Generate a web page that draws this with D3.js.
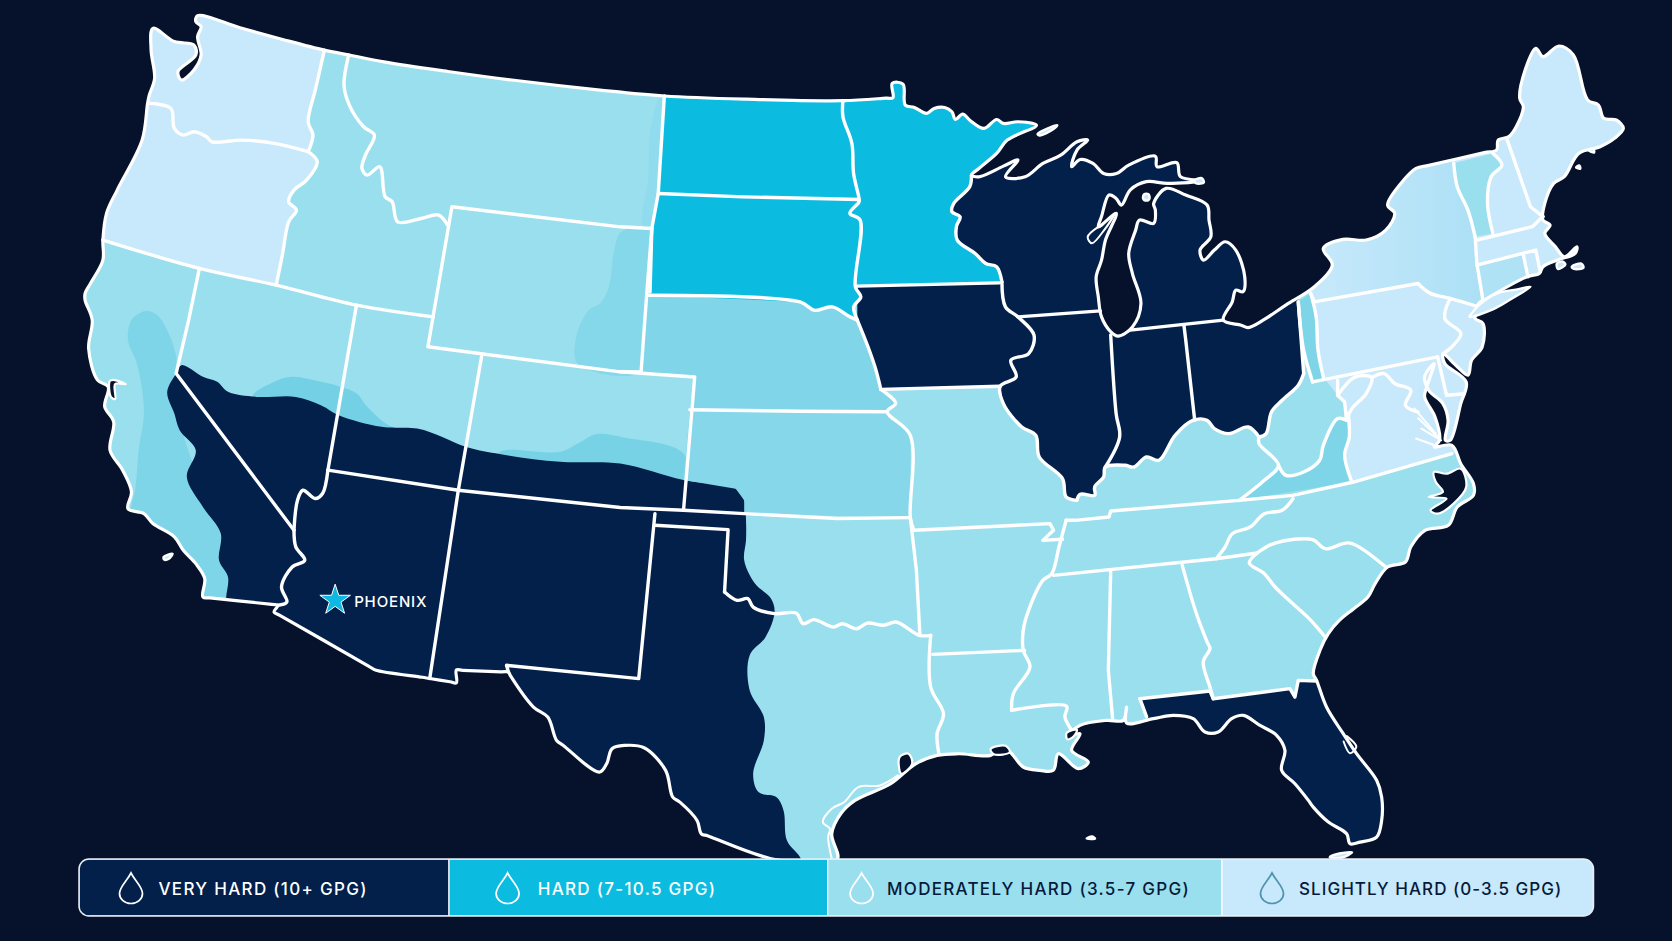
<!DOCTYPE html>
<html>
<head>
<meta charset="utf-8">
<script src="https://cdn.jsdelivr.net/npm/d3@7"></script>
<style>
    html, body { margin: 0; padding: 0; background: #06122b; }
    svg { display: block; }
    text { font-family: "Inter", "Lato", sans-serif; }
</style>
</head>
<body>
<div id="map"></div>
<script>
// Legend content
const legendLabels = ["VERY HARD (10+ GPG)", "HARD (7-10.5 GPG)", "MODERATELY HARD (3.5-7 GPG)", "SLIGHTLY HARD (0-3.5 GPG)"];
const legendFills = ["#03204b", "#0cbce0", "#9adfee", "#c8e8fc"];
const legendInk = ["#ffffff", "#ffffff", "#071a3a", "#071a3a"];
const legendDropInk = ["#ffffff", "#ffffff", "#ffffff", "#4e94ad"];
const cityName = "PHOENIX";
const cityPoint = [314.3, 562.6];

const landOutline = [
    [185.3,14.7],[225,26],[265,37],[304,47],[327.6,51.6],[360,58],[420,67],[480,75],[562.7,84.4],[623,90],[700,93],[790.5,94.4],[831,92],[837.4,91.6],[836.7,78.2],[846.8,78.8],[849,98.5],
    [857.5,100.7],[869,106.3],[876,101.6],[886,100.7],[892.7,104.8],[896,112],[902.7,107],[911,114],[922.8,120.4],[934.6,112],[941,115.7],[954.6,114.1],[972,117.3],[944.6,131.3],[934.6,143.8],[918,157.9],[911,164.1],
    [918,165.7],[941,155.7],[954.6,150],[943,165.7],[961.4,165.7],
    [978,153.2],[994.7,145.4],[1010,132.9],[1020,131.3],[1010,140.7],[1005,156.3],[1013,149.5],[1025,153.2],[1035,162.6],[1047,162.6],[1058.5,154.8],[1083.6,146.5],[1085,156.3],[1103.6,152.5],[1107,165.6],[1127,169.4],
    [1095,171.9],[1075,170.3],[1060,178],[1051.7,192.2],[1046.7,186],[1040,182.8],[1033,203],[1030,212.6],[1046.8,200],
    [1036.7,225],[1033,243.9],[1028,259.5],[1030,278.3],[1033,297],[1041.7,311],[1048.4,315.1],[1062,306.4],[1070,284.5],[1062,256.4],[1058.5,237.6],[1065,215.7],[1068.5,206.3],
    [1081.9,209.4],[1083.5,197],[1081.9,190.7],[1093.6,176.6],
    [1112,182.8],[1132,192.2],[1133.8,206.3],[1135.5,221.9],[1125.4,234.4],[1128.7,243.8],[1138.8,234.4],[1148.9,226.6],[1158.9,234.4],[1167.3,259.4],[1165.6,273.5],[1158.9,271.9],[1155.6,282.9],[1147.2,300.1],
    [1164,304.8],[1170.6,307],[1185.7,299.4],[1205.8,286],[1232.6,268.8],[1249.4,248.5],[1241,232.9],[1259.4,224.4],[1281.2,225],[1299.6,215.7],[1308,200],[1301.3,192.2],[1316.4,168.8],[1328,157.8],[1340,155],[1392,143],[1403.5,140.6],[1405,131.3],[1415,128.1],[1421.9,118.8],[1428.6,100],[1425.2,92.2],[1430.3,65.6],[1440.3,45.3],[1447,53.1],[1462,43.1],[1475.5,51.5],[1488.9,93.7],[1499,98.4],[1504,110.9],[1515.7,112.5],[1522.4,120.3],[1514,129.7],[1500.6,137.5],[1480.5,143.8],[1467,165.6],[1457,171.9],[1448.7,190.7],[1447,206.3],[1453.7,211],[1448.7,218.8],[1458.7,231.3],[1467.1,240.7],[1478.8,231.3],[1477.1,237.5],[1460.4,243.8],[1447,250],[1443.6,256.3],[1431.9,259.4],[1391.7,281.3],[1386.7,284.4],
    [1383.4,298.5],[1390.7,303.2],[1390,325.1],[1380,337.7],[1376.7,351.7],[1366,343],[1353.2,331.4],[1354.9,340.8],[1375,358],[1369.9,378.3],[1360,412.7],
    [1355.5,412.7],[1358,394],[1353,378],[1340,366],[1336,353.3],[1345,340.8],[1338,362.7],[1336,372],[1345.8,390.8],[1350,412.7],[1345,419],[1361.6,417.4],
    [1369.9,434.6],[1381.8,453.3],[1381.8,464.3],[1366.6,475.2],[1358.2,492.4],[1336.4,497.1],[1323,512.7],[1318,526.8],[1301.3,531.5],[1289.6,547.1],[1282.8,559.6],[1269.5,570.5],[1256,581.5],[1245.7,593.9],[1237.9,609.5],[1231.6,631.4],[1234.7,637.7],
    [1244,662.7],[1259.7,687.7],[1272.2,706.4],[1291,731.4],[1295.7,747],[1295.7,769],[1291,784.6],[1275.4,789.3],[1266,790.8],[1262.9,781.5],[1245.7,770.5],[1231.6,756.5],[1227,750.2],[1214.4,734.6],[1201.9,722],[1205,703.3],[1197.2,689.2],[1181.6,679.9],[1166,670.5],[1155,673.6],[1142.5,686.1],[1130,686.1],[1119,673.6],[1100.3,670.5],[1081.6,673.6],[1056.5,677.7],[1056.5,662.7],[1053.4,675.2],[1037.8,675.2],[1012.8,679.9],[1000.3,690.8],[1012.8,687.7],[1005,703.3],[1020.6,714.2],[1011.2,720.5],[992.5,706.4],[987.8,722],[975.3,722],[959.6,718.9],[947.1,704.9],[937.8,701.8],[929,708],[899,706.5],[878.8,708],[858.7,715.9],[835.3,734.6],[801.8,750.2],[788.4,762.7],[780,781.5],[785,806],
    [728.7,806],[664,783.5],[657.7,781.5],[653.7,769],[637.6,751.8],[630.9,747.1],[624.2,722.1],[604,700.9],[585.7,698.7],[574,701.8],[568.9,715.9],[562.2,723.7],[528,698.5],[522,694],[513.7,672.1],[500.3,662.7],[478.5,633],[476.8,629.9],[470,629.7],[434,628.3],[428,628],[428,640],[422,639],[403,636],[396,634.8],[352,628],[346,624.5],[262,576.5],[257,573.6],[260.7,567.3],[255,566.5],[197,560.4],
    [190.3,559.5],[192,542.3],[183.6,528.3],[171.9,515.8],[163.5,503.2],[143.4,490.7],[135,481.4],[120,476.7],[123.3,461],[115,440.7],[103.2,422],[106.6,395.4],[98.2,381.3],[101.5,362.6],[91.5,356.3],[83.1,326.6],[86.5,300],[79.8,281.3],[79.8,275],[84.8,265.7],[96.5,243.8],[96.5,225],[99.9,200],[109.9,178.2],[133.3,131.3],[138.4,96.9],[140,89.1],[145,73.5],[141.7,46.9],[143.4,26.6],[163.5,39],[181.9,42.2],[183.6,51.6],[166.9,67.2],[170.2,75],[181.9,65.6],[188.6,51.6],[185.3,34.4],[188.6,25],[183.6,20.3]
];

// Shared borders, used both as lines and as the edges of the colour zones
const waId = [[304.2,47],[296,83],[289,114.1],[293.5,126.6],[289,142.2]];
const waOr = [[140,96.9],[160.2,101.6],[163.5,120.4],[171.9,126.6],[181.9,123.5],[193.6,128.2],[198.7,132.9],[227.2,131.3],[257.3,134.4],[289,142.2]];
const orId = [[289,142.2],[297.5,151.6],[287.5,168.8],[275.7,178.2],[270.7,189.1],[278,196.9],[270.7,207.9],[265,238],[259,267.3]];
const lat42 = [[96.5,225],[187,251.6],[259,267.3],[334.3,286],[406.4,297]];
const idMt = [[327,51.6],[322.6,79.7],[327.6,98.5],[341,118.8],[351.1,126.6],[342.7,145.4],[339.4,157.9],[344.4,164.1],[356.1,156.3],[361.2,184.4],[367.8,189.1],[372.9,207.9],[394.7,204.8],[411.4,201.6],[419.8,211]];
const mtNd = [[623,90],[617.3,181.3],[611.3,214.2]];
const sdWest = [[611.3,214.2],[609.6,273.6]];
const ndSd = [[617.3,181.3],[696.7,184.5],[805.6,187]];
const neNorth = [[608,276.7],[750.3,283],[763.7,290.8],[780.5,287.6],[797.2,297],[804,300]];
const sdEast = [[804,300],[800.6,287.6],[807.3,278.3],[802.2,268.9],[806.6,206.3],[797,200],[805.6,189.2],[805.6,186],[800.5,162.6],[798.9,134.5],[790.5,109.4],[790.5,94.4]];
const mnIa = [[803.9,268.2],[937.2,265.1]];
const mnWi = [[911,164.1],[909.4,175.1],[894.4,190.7],[892.7,198.5],[900.4,203.2],[897,212],[897.7,225.1],[914.5,237.6],[924.5,247],[934.6,250],[939.6,264.2]];
const miss = [[939.6,264.2],[942.9,287.6],[954.6,297],[969.7,314.2],[964.7,331.4],[948,337.6],[953,353.3],[938,362],[941,378.3],[957.9,400],[971.3,408],[974.6,428.3],[996.4,448.6],[999.8,465.8],[1009.8,469]];
const iaWest = [[804,300],[814,325],[820.6,343.9],[824,356.4],[826,365]];
const iaMo = [[826,365],[938,362]];
const moWest = [[826,365],[840,378],[832,386],[853.7,408],[853.7,485.2],[857,497]];
const ohio = [[1009.8,469],[1013,463.3],[1026.6,464.3],[1026.6,456.4],[1035,447],[1036.6,437.7],[1055,436.1],[1063.4,437.7],[1075.2,428.3],[1086.9,431.4],[1102,408],[1118.7,394],[1132,394],[1138.8,401.7],[1152.2,406.4],[1170.6,400.2],[1180.7,409.6]];
const ohWv = [[1222.6,350.2],[1217.5,361],[1202.4,375.2],[1192.4,386.1],[1187.4,406.4],[1180.7,409.6]];
const ohPa = [[1217.5,283],[1222.5,328],[1231,358]];
const paWest = [[1229.2,275],[1234.3,297],[1236,328],[1241,353.3]];
const wvVa = [[1199,436.1],[1205.8,445.5],[1222.6,442.4],[1237.6,431.4],[1241,417.4],[1254.4,392.4],[1262.8,393.9]];
const vaWest = [[1264.4,387.7],[1265.4,409.6],[1261,426.7],[1267.8,451.8]];
const vaNc = [[1361.6,425.2],[1269.4,451.8],[1212.5,464.3],[1162.2,469],[1041.7,479],[1040,484.6],[1008.2,487.7],[999.8,487.7]];
const nyVt = [[1363.3,153],[1366.6,175],[1376.6,197],[1383.4,222]];
const vtNh = [[1400,143.8],[1408.5,154.7],[1398.4,165.6],[1395,190.7],[1400,218.8]];
const fourCorners = [[307.5,440.7],[429.8,459.5],[581.6,475.7],[641,478.3],[697.9,481.4],[785,486],[853.7,485.2]];
const flNorth = [[1069,654.9],[1134.7,647.7],[1137.8,654.9],[1209.7,645.5],[1214.4,653.3],[1217.5,637.7],[1234.7,638.3]];
const redRiver = [[679.5,554.9],[691.2,562.7],[701.3,561.1],[706.3,569],[726.4,575.2],[746.5,574.6],[753.2,584.6],[763.2,580.8],[781.7,587.7],[790,584.6],[803.4,589.3],[813.5,584],[828.6,586.1],[840.3,583],[862,595.5],[872.8,595.5]];

// Lines with hard corners, kept straight
const straightLines = [
    [[423.8,193.8],[581.6,212.6],[611.3,214.2],[606.3,278.3],[601.2,348.6],[581.6,348.5],[401.3,325],[423.8,193.8]],
    [[334.3,286],[307.5,440.7]],
    [[187,251.6],[176.9,300],[165.2,350],[275.7,497]],
    [[451.6,334.4],[429.8,459.5]],
    [[429.8,459.5],[403,636]],
    [[614.2,481.4],[599,636.1],[475,623.6],[476.8,629.9]],
    [[614.2,492.3],[682.8,496.4],[679.5,554.9]],
    [[853.7,485.2],[859.4,534.5],[862.7,595.5]],
    [[581.6,348.5],[651.5,353.3],[641,478.3]],
    [[647,384],[750,385.5],[832,386]],
    [[954.6,297],[1031.9,291.4]],
    [[1060,309.4],[1147.2,300.1]],
    [[1110.3,304.8],[1112,318.9],[1120.4,394]],
    [[1222.6,350.2],[1217.5,283]],
    [[1231,358],[1348.2,334.5]],
    [[1229.2,275],[1232.6,282.9],[1329.7,265.7]],
    [[1385,225],[1437,212.5],[1447,203]],
    [[1385,248.5],[1440.3,234.4],[1444.4,254.7]],
    [[1428.6,239],[1432.9,259.4]],
    [[1413.5,131.3],[1435.3,193.8],[1447,203]],
    [[1383.4,222],[1385,247],[1390.7,281.3]],
    [[857,497],[984.7,490.8],[988,497],[978,506.5],[996.4,505.5]],
    [[874.8,613.3],[960.9,609.6]],
    [[1041.6,536.2],[1039.4,628.3],[1043.4,673.6]],
    [[1069,654.9],[1075.3,672]],
    [[988,539.3],[1140.5,523.7],[1179,518.3]],
    [[1348.2,334.5],[1356.6,370.5],[1373.3,369]],
    [[1254.4,356.4],[1254.4,370.5],[1261,376.7],[1262.8,393.9]],
    mnIa, iaMo, ndSd, mtNd, sdWest, flNorth, fourCorners, vaNc
];

// Lines that follow rivers and ridges, drawn as curves
const riverLines = [
    waId, waOr, orId, lat42, idMt, neNorth, sdEast, mnWi, miss, iaWest, moWest, ohio, ohWv, ohPa, paWest, wvVa, vaWest, nyVt, vtNh, redRiver,
    [[307.5,440.7],[302.5,462.6],[295.8,467.3],[284,459.5],[279,468.9],[275.7,497]],
    [[275.7,497],[277.4,512.6],[285.8,525.1],[274,531.4],[264,550.1],[269,564.2],[260.7,567.3]],
    [[872.8,595.5],[872.8,644],[884.8,669],[878.8,687.7],[880.5,706.5]],
    [[1041.6,314],[1046.7,387.7],[1050,409.6],[1036.6,437.7]],
    [[1180.7,409.6],[1180.7,415.8],[1199,436.1],[1185.7,450.2],[1162.2,469]],
    [[1254.4,370.5],[1271.1,353.3],[1286.2,353.9],[1281.2,368.9],[1267.8,383],[1262.8,393.9]],
    [[1286.2,353.9],[1297.9,350.2],[1308,359.5],[1323,365.8],[1318,379.9],[1329.8,386.1]],
    [[1329.7,265.7],[1341.5,275],[1359.9,279.7],[1386.7,287.6]],
    [[1359.9,279.7],[1354.9,298.5],[1370,312.6],[1361.6,325],[1353.2,331.4]],
    [[1212.5,467.4],[1202.4,478.3],[1185.7,481.5],[1172.3,494],[1155.6,500.2],[1148.9,512.7],[1140.5,523.7]],
    [[1179,518.3],[1195.8,509],[1231,505.8],[1242.7,514.3],[1266.1,509],[1299.6,531.5]],
    [[1179,518.3],[1171.6,527.7],[1185.7,537.7],[1195.8,550.2],[1212.5,565.9],[1229.3,581.5],[1242.7,597.1]],
    [[999.8,487.7],[993.1,512.7],[986.4,537.7],[978,544],[964.6,572.1],[959.6,590.9],[959.6,609.5],[965.9,625.2],[950.3,650.2],[948.7,665.8]],
    [[948.7,665.8],[1000.3,662],[998.7,672],[1005,684.6]],
    [[1108.7,529.9],[1122,575.2],[1132.1,601.8],[1134.7,608],[1128.4,620.5],[1134.7,643.9],[1137.8,654.9]]
];

// Colour zones, clipped to the land afterwards
const veryHardEdge = [[165.2,350],[170.2,342.3],[190.3,353.2],[203.7,357.9],[213.8,367.3],[240.5,372],[277.4,372],[300.9,379.8],[317.6,389.1],[357.8,400.1],[391.3,401.7],[414.8,409.5],[436.5,418.8],[475,426.7],[525.3,432.9],[581.6,434.5],[641,450],[690,458],[697.9,468.9],[699.6,487.6],[699.6,506.4],[697.9,525.2],[708,547],[723,561],[726.4,573.6],[718,597],[703,614.3],[703,647],[716.3,672],[716.3,694],[706.3,725.2],[711.3,742.4],[728,747.1],[734.8,759.6],[738,787.8],[751.5,805.9],[751.5,830],[212,600],[212,561],[213.8,540.8],[205.4,525.1],[207,500.1],[190.3,475.1],[175.2,447],[183.6,422],[168.5,403.2],[163.5,387.6],[156.8,367.3]];
const midwestZone = [...mnWi, ...[...mnIa].reverse(), ...iaWest, ...iaMo.slice(1), ...miss.slice(8), ...ohio.slice(1), ...[...ohWv].reverse().slice(1), [1217.5,283], [1220,100], [990,100], [972,117.3], [944.6,131.3], [934.6,143.8], [918,157.9]];
const floridaZone = [...flNorth, [1320,638], [1320,800], [1075,800], [1075.3,672]];
const hardZone = [[623,90],[623,60],[860,60],[880,90],[990,100],[972,117.3],[944.6,131.3],[934.6,143.8],[918,157.9],...mnWi,...[...mnIa].reverse(),[802.2,268.9],[807.3,278.3],[800.6,287.6],...[...neNorth].reverse(),[609.6,273.6],[611.3,214.2],[617.3,181.3]];
const pacificZone = [[60,225],...lat42.slice(0,3),...[...orId].reverse(),...[...waId].reverse(),[185,0],[60,0]];
const northeastZone = [[1241,353.3],[1254.4,370.5],[1261,376.7],[1262.8,393.9],...vaWest,[1361.6,425.2],[1400,410],[1540,300],[1540,30],[1235,30],...paWest.slice(0,3)];
const virginiaTint = [...wvVa,...vaWest.slice(1),[1162.2,469],[1185.7,450.2]];
const ohioStrip = [...ohPa,...[...paWest].reverse()];
const vermontZone = [...vtNh,...[...nyVt].reverse()];
const newYorkZone = [[1232.6,282.9],[1232,200],[1300,130],[1363.3,130],...nyVt,[1385,247],[1390.7,281.3],[1386.7,287.6],[1359.9,279.7],[1341.5,275],[1329.7,265.7]];
const connecticutZone = [[1385,248.5],[1428.6,239],[1432.9,259.4],[1391.7,281.3]];
const nebraskaZone = [...neNorth,...iaWest.slice(1),[840,378],[832,386],[647,384],[651.5,353.3],[601.2,348.6]];
const kansasZone = [[647,384],[832,386],[853.7,408],[853.7,485.2],[697.9,481.4],[697.9,468.9],[690,458],[641,450]];
const wyomingTint = [[611.3,214.2],[582.8,217.3],[576,234.5],[571,268.9],[562.7,284.5],[552,290.7],[540.4,315.7],[542,341],[601.2,348.6],[606.3,278.3]];
const montanaTint = [[623,90],[618,92.3],[609.6,125],[608,165.7],[603,211],[611.3,214.2],[617.3,181.3]];
const coloradoTint = [[468,424],[525.3,423.5],[542,415.7],[558.8,407],[585,410],[641,425],[644,455],[468,440]];
const nevadaTint = [[237,372],[257.3,357.9],[274,353.2],[300.9,357.9],[317.6,362],[334.4,368.8],[344.4,381.3],[364.5,398.5],[391.3,405],[300,395]];
const californiaTint = [[136.7,291.6],[123.3,300],[120,318.8],[128.3,340.7],[135,384.5],[130,422],[126.7,459.5],[123,475],[120,520],[215,570],[215,530],[170,400],[165.2,350],[165.2,334.4],[156.8,309.4],[147,295]];

// Inlets, lagoons and islands
const waterShapes = [
    [[1344.8,442.4],[1356.6,444],[1369.9,439.3],[1375,456.5],[1363.2,472],[1348.2,481.5],[1341.5,478.3],[1356.6,467.4],[1339.8,465.8],[1353.2,461.1],[1346.5,451.8]],
    [[843.6,709.6],[852,706.5],[855.4,715.9],[845.3,725.2]],
    [[1000.3,687],[1010,684],[1007,690],[1001,693]],
    [[929,702],[943,699],[947,705],[932,707]],
    [[103,357],[106,356],[118,360],[108,360],[108,374],[104,372]]
];
const islands = [
    [[973,125.7],[991.5,117.3],[988,121],[975,127]],
    [[153.5,522],[161.8,519],[158,524],[154,524.5]],
    [[1378,297],[1400,290],[1416,281],[1435.3,268.8],[1424,271],[1404,275],[1387,286],[1380,294]],
    [[1073,182],[1077,182],[1078,186],[1075,188],[1072,186]],
    [[1120,169],[1127,167],[1129,171],[1122,172]],
    [[1460,247],[1465,245],[1468,248],[1461,252]],
    [[1474,250],[1483,247],[1485,251],[1476,252]],
    [[1247,803.5],[1256,800],[1268,799],[1258,804]],
    [[1019,786],[1024,784],[1027,786]],
    [[1490,141],[1494,139],[1495,143]],
    [[1478,157],[1481,155],[1482,158]]
];
const thinDetails = [
    [[842,726.8],[825.2,736.2],[805,737.7],[791.7,751.8],[780,758],[771.6,770.6],[778.3,776.8],[776.6,784.6],[780,805]],
    [[1328,411],[1349.9,419]],
    [[1333,401.7],[1351.5,412.7]],
    [[1326.4,383],[1346.5,406.4]],
    [[1330,392],[1349,410]],
    [[1046,200],[1036,215],[1024,228],[1020,222],[1030,212.6]],
    [[1263,690],[1272,700],[1266,706],[1260,695]]
];

// Set sizes
let width = 1672;
let height = 941;

// Map units to pixels
const xScale = d3.scaleLinear().domain([0, 1568]).range([0, width]);
const yScale = d3.scaleLinear().domain([0, 882]).range([0, height]);

// Create SVG for visual
let svg = d3.select("#map").append("svg")
    .attr("width", width)
    .attr("height", height)
    .style("background", "#06122b");

const straight = d3.line().x(d => xScale(d[0])).y(d => yScale(d[1]));
const curved = d3.line().x(d => xScale(d[0])).y(d => yScale(d[1])).curve(d3.curveCatmullRom.alpha(0.5));
const blob = d3.line().x(d => xScale(d[0])).y(d => yScale(d[1])).curve(d3.curveCatmullRomClosed.alpha(0.5));

// Fade for New York
let gradient = svg.append("defs").append("linearGradient")
    .attr("id", "nyFade")
    .attr("gradientUnits", "userSpaceOnUse")
    .attr("x1", xScale(1240)).attr("x2", xScale(1390))
    .attr("y1", 0).attr("y2", 0);
gradient.append("stop").attr("offset", 0).attr("stop-color", "#c6e8fb");
gradient.append("stop").attr("offset", 1).attr("stop-color", "#ace0f5");

svg.select("defs").append("clipPath").attr("id", "landClip")
    .append("path").attr("d", blob(landOutline));

// Land with the colour zones on top
svg.append("path").attr("d", blob(landOutline)).attr("fill", legendFills[2]);

const softZones = [
    [californiaTint, "#7fd5e8"], [nevadaTint, "#74d0e4"], [coloradoTint, "#77d2e6"], [wyomingTint, "#85d7ea"], [montanaTint, "#90dbed"],
    [veryHardEdge, legendFills[0]]
];
const sharpZones = [
    [nebraskaZone, "#80d5e9"], [kansasZone, "#86d7ea"],
    [midwestZone, legendFills[0]], [floridaZone, legendFills[0]],
    [hardZone, legendFills[1]], [pacificZone, legendFills[3]], [northeastZone, legendFills[3]],
    [virginiaTint, "#7fd5e8"], [ohioStrip, "#7fd5e8"], [vermontZone, legendFills[2]],
    [newYorkZone, "url(#nyFade)"], [connecticutZone, "#b0e2f5"]
];

let zoneLayer = svg.append("g").attr("clip-path", "url(#landClip)");
zoneLayer.selectAll(".soft").data(softZones).enter().append("path")
    .attr("class", "soft")
    .attr("d", d => blob(d[0]))
    .attr("fill", d => d[1]);
zoneLayer.selectAll(".sharp").data(sharpZones).enter().append("path")
    .attr("class", "sharp")
    .attr("d", d => straight(d[0]) + "Z")
    .attr("fill", d => d[1]);

// State lines
const drawLines = function (lines, lineMaker, lineWidth) {
    svg.append("g").selectAll("path").data(lines).enter().append("path")
        .attr("d", lineMaker)
        .attr("fill", "none")
        .attr("stroke", "#ffffff")
        .attr("stroke-width", lineWidth)
        .attr("stroke-linejoin", "round")
        .attr("stroke-linecap", "round");
};
drawLines(straightLines, straight, 3.4);
drawLines(riverLines, curved, 3.4);

// Shoreline
svg.append("path").attr("d", blob(landOutline))
    .attr("fill", "none")
    .attr("stroke", "#ffffff")
    .attr("stroke-width", 3.2)
    .attr("stroke-linejoin", "round");

drawLines(thinDetails, curved, 2);

svg.append("g").selectAll("path").data(waterShapes).enter().append("path")
    .attr("d", blob)
    .attr("fill", "#06122b")
    .attr("stroke", "#ffffff")
    .attr("stroke-width", 2.2);

svg.append("g").selectAll("path").data(islands).enter().append("path")
    .attr("d", blob)
    .attr("fill", legendFills[3])
    .attr("stroke", "#ffffff")
    .attr("stroke-width", 2.4);

// Phoenix marker
svg.append("path")
    .attr("d", d3.symbol(d3.symbolStar, 290)())
    .attr("transform", `translate(${xScale(cityPoint[0])}, ${yScale(cityPoint[1])})`)
    .attr("fill", "#0db9e2")
    .attr("stroke", "#ffffff")
    .attr("stroke-width", 1);

svg.append("text")
    .attr("x", xScale(cityPoint[0]) + 19)
    .attr("y", yScale(cityPoint[1]) + 7)
    .attr("fill", "#ffffff")
    .attr("font-size", 15)
    .attr("font-weight", 500)
    .attr("letter-spacing", 0.85)
    .text(cityName);

// Legend bar
const legendTop = 859;
const legendHeight = 57;
const legendEdges = [79, 449, 827.7, 1222, 1593.5];
const textLeft = [158.5, 537.7, 887, 1299];
const textSpacing = [1.3, 1.3, 1.3, 1.05];
const dropCenter = [131, 507.6, 861.6, 1272];
const dropPath = "M0,-15 C4,-7 11.5,-1 11.5,5.5 A11.5,10 0 0 1 -11.5,5.5 C-11.5,-1 -4,-7 0,-15Z";

svg.select("defs").append("clipPath").attr("id", "legendClip")
    .append("rect")
    .attr("x", legendEdges[0]).attr("y", legendTop)
    .attr("width", legendEdges[4] - legendEdges[0]).attr("height", legendHeight)
    .attr("rx", 10);

let legend = svg.append("g");
legend.append("g").attr("clip-path", "url(#legendClip)")
    .selectAll("rect").data(legendFills).enter().append("rect")
    .attr("x", (d, i) => legendEdges[i])
    .attr("y", legendTop)
    .attr("width", (d, i) => legendEdges[i + 1] - legendEdges[i])
    .attr("height", legendHeight)
    .attr("fill", d => d)
    .attr("stroke", "#ffffff")
    .attr("stroke-width", 1.2);

legend.append("rect")
    .attr("x", legendEdges[0]).attr("y", legendTop)
    .attr("width", legendEdges[4] - legendEdges[0]).attr("height", legendHeight)
    .attr("rx", 10)
    .attr("fill", "none")
    .attr("stroke", "#e6eef5")
    .attr("stroke-width", 1.5);

legend.selectAll(".drop").data(legendDropInk).enter().append("path")
    .attr("class", "drop")
    .attr("d", dropPath)
    .attr("transform", (d, i) => `translate(${dropCenter[i]}, ${legendTop + 29})`)
    .attr("fill", "none")
    .attr("stroke", d => d)
    .attr("stroke-width", 1.7);

legend.selectAll(".label").data(legendLabels).enter().append("text")
    .attr("class", "label")
    .attr("x", (d, i) => textLeft[i])
    .attr("y", legendTop + 35.5)
    .attr("fill", (d, i) => legendInk[i])
    .attr("font-size", 17)
    .attr("font-weight", 500)
    .attr("letter-spacing", (d, i) => textSpacing[i])
    .text(d => d);
</script>
</body>
</html>
